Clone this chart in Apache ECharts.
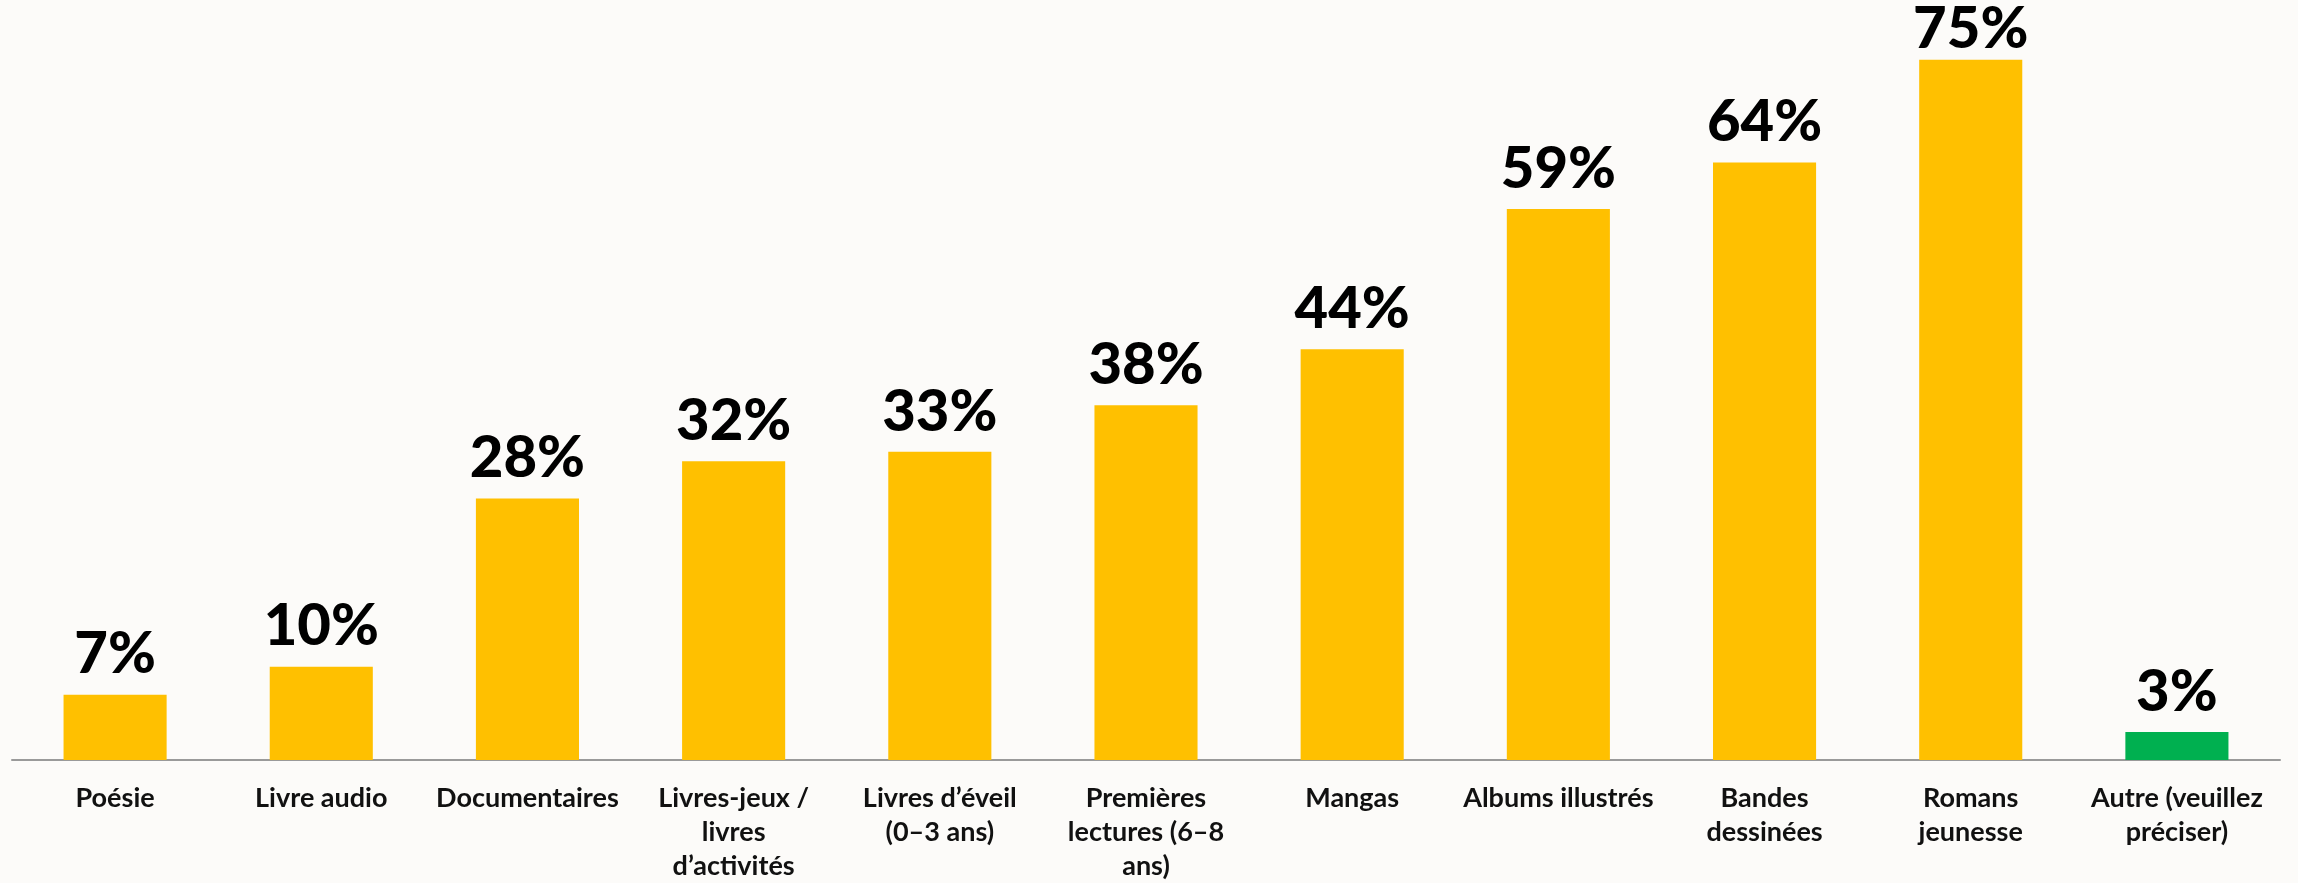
<!DOCTYPE html>
<html>
<head>
<meta charset="utf-8">
<script src="https://cdn.jsdelivr.net/npm/echarts@6/dist/echarts.min.js"></script>
<style>
html,body{margin:0;padding:0;background:#FCFBF9;}
#chart{width:2298px;height:883px;}
</style>
</head>
<body>
<div id="chart"></div>
<script>
const categories = [
  "Poésie",
  "Livre audio",
  "Documentaires",
  "Livres-jeux /\nlivres\nd’activités",
  "Livres d’éveil\n(0–3 ans)",
  "Premières\nlectures (6–8\nans)",
  "Mangas",
  "Albums illustrés",
  "Bandes\ndessinées",
  "Romans\njeunesse",
  "Autre (veuillez\npréciser)"
];
const values = [7, 10, 28, 32, 33, 38, 44, 59, 64, 75, 3];
const barColors = ["#FFC000","#FFC000","#FFC000","#FFC000","#FFC000","#FFC000","#FFC000","#FFC000","#FFC000","#FFC000","#00B050"];
const maxValue = Math.max(...values);

const chart = echarts.init(document.getElementById('chart'));
chart.setOption({
  backgroundColor: '#FCFBF9',
  animation: false,
  grid: { left: 12, right: 18, top: 13, bottom: 110, containLabel: false },
  xAxis: {
    type: 'category',
    data: categories,
    axisLine: { show: true, lineStyle: { color: '#9A9A9A', width: 2 } },
    axisTick: { show: false },
    axisLabel: {
      interval: 0,
      margin: 21,
      color: '#111',
      fontFamily: 'Lato',
      fontWeight: 'bold',
      fontSize: 27,
      lineHeight: 34
    }
  },
  yAxis: {
    type: 'value',
    min: 0,
    max: 80,
    show: false,
    splitLine: { show: false }
  },
  series: [{
    type: 'bar',
    barWidth: '50%',
    data: values.map((v, i) => ({
      value: v,
      itemStyle: { color: barColors[i] },
      label: { distance: v === maxValue ? 1 : 11 }
    })),
    label: {
      show: true,
      position: 'top',
      formatter: p => p.value + '%',
      color: '#000',
      fontFamily: 'Lato',
      fontWeight: 900,
      fontSize: 58
    }
  }]
});
</script>
</body>
</html>
